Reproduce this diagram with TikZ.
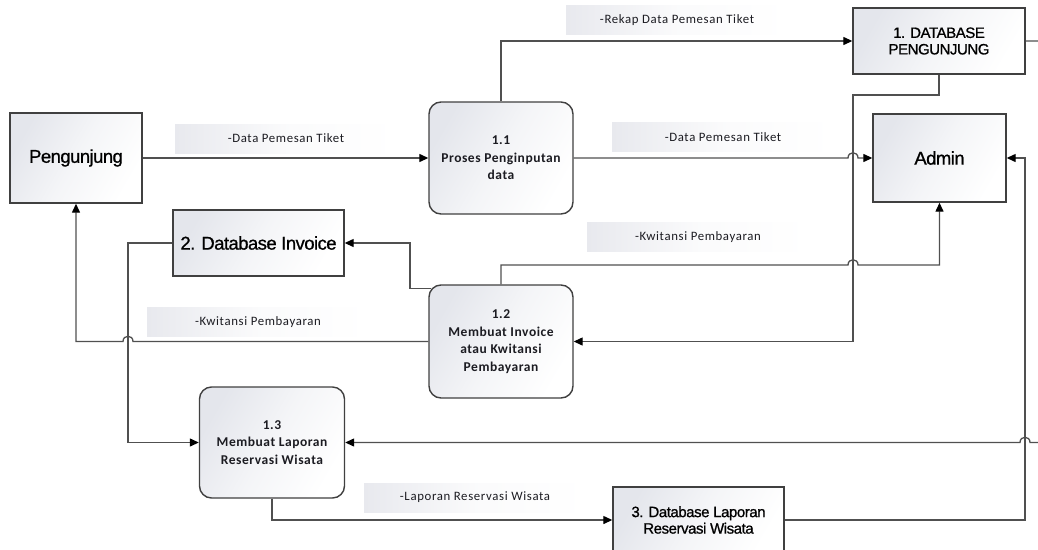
\documentclass[tikz,border=0pt]{standalone}
\usepackage{fontspec}
\usetikzlibrary{arrows.meta,calc}
\newfontfamily\boxfont[LetterSpace=-3,FakeBold=0.9]{Liberation Sans}
\newfontfamily\procfont[LetterSpace=4]{Carlito}
\newfontfamily\flowfont[LetterSpace=5]{Carlito}
\definecolor{edgegray}{RGB}{64,64,64}
\definecolor{linegray}{RGB}{80,80,80}
\definecolor{shadegray}{RGB}{228,230,236}
\definecolor{tagshade}{RGB}{232,233,238}
\definecolor{txt}{RGB}{28,28,34}

\tikzset{
  entity/.style={draw=edgegray, line width=1.4pt,
    left color=shadegray, right color=white, middle color=white!60!shadegray,
    shading angle=60, inner sep=2pt, align=center, text=black},
  process/.style={entity, rounded corners=12pt,
    font=\procfont\bfseries\fontsize{13.5}{17.5}\selectfont, text=txt},
  bigtext/.style={font=\boxfont\fontsize{18.5}{21}\selectfont},
  smalltext/.style={font=\boxfont\fontsize{15}{16.5}\selectfont},
  tag/.style={left color=tagshade, right color=white, middle color=white!80!tagshade,
    minimum width=222pt, minimum height=29pt, inner sep=0pt, text=txt,
    font=\flowfont\fontsize{12.8}{15}\selectfont},
  flow/.style={draw=linegray, line width=1.3pt,
    -{Triangle[length=9pt,width=8pt,color=black]}},
  hopr/.style={insert path={-- ($(#1)+(-5,0)$) .. controls ($(#1)+(-5,-7)$) and ($(#1)+(5,-7)$) .. ($(#1)+(5,0)$)}},
  hopl/.style={insert path={-- ($(#1)+(5,0)$) .. controls ($(#1)+(5,-7)$) and ($(#1)+(-5,-7)$) .. ($(#1)+(-5,0)$)}}
}

\begin{document}
\begin{tikzpicture}[x=1pt,y=-1pt]
\path[use as bounding box] (0,0) rectangle (1038,549);
\clip (0,0) rectangle (1038,549);

% external entities and data stores
\node[entity, bigtext, minimum width=132pt, minimum height=90pt] (pg) at (76,158) {Pengunjung};
\node[entity, bigtext, minimum width=133pt, minimum height=88pt] (adm) at (939.5,158) {Admin};
\node[entity, smalltext, minimum width=172pt, minimum height=66pt] (dbp) at (939,41) {1. DATABASE\\PENGUNJUNG};
\node[entity, bigtext, minimum width=171pt, minimum height=66pt] (dbi) at (258.5,243) {2. Database Invoice};
\node[entity, smalltext, minimum width=171pt, minimum height=66pt] (dbl) at (698.5,520) {3. Database Laporan\\Reservasi Wisata};

% processes
\node[process, minimum width=144pt, minimum height=112pt] (p11) at (501,158) {1.1\\Proses Penginputan\\data};
\node[process, minimum width=144pt, minimum height=113pt] (p12) at (501,341.5) {1.2\\Membuat Invoice\\atau Kwitansi\\Pembayaran};
\node[process, minimum width=145pt, minimum height=111pt] (p13) at (272,442.5) {1.3\\Membuat Laporan\\Reservasi Wisata};

% flow labels
\node[tag] (t1) at (286,138.5) {-Data Pemesan Tiket};
\node[tag] (t2) at (723,137) {-Data Pemesan Tiket};
\node[tag] (t3) at (677,20) {-Rekap Data Pemesan Tiket};
\node[tag] (t4) at (698,237) {-Kwitansi Pembayaran};
\node[tag] (t5) at (258,322) {-Kwitansi Pembayaran};
\node[tag] (t6) at (475,497.5) {-Laporan Reservasi Wisata};

% routing helpers
\coordinate (xa) at (853,95);
\coordinate (xb) at (1025,0);
\coordinate (xc) at (1046,0);
\coordinate (xd) at (128,0);
\coordinate (xe) at (410,0);
\coordinate (ya) at (0,265);
\coordinate (h1) at (xa |- p11.east);
\coordinate (h2) at (xa |- ya);
\coordinate (h3) at (xd |- p12.west);
\coordinate (h4) at (xb |- p13.east);

% data flows
\draw[flow] (pg.east) -- (p11.west);
\draw[flow] (p11.east) [hopr=h1] -- (adm.west);
\draw[flow] (p11.north) |- (dbp.west);
\draw[flow] (dbp.south) |- (xa) |- (p12.east);
\draw[flow] (dbp.east) -| (xc |- p13.east) [hopl=h4] -- (p13.east);
\draw[flow] (dbl.east) -| (xb |- adm.east) -- (adm.east);
\draw[flow] (p12.north) -- (p12.north |- ya) [hopr=h2] -| (adm.south);
\draw[flow] ($(p12.north west)+(3,4)$) -| (xe |- dbi.east) -- (dbi.east);
\draw[flow] (p12.west) [hopl=h3] -| (pg.south);
\draw[flow] (dbi.west) -| (xd |- p13.west) -- (p13.west);
\draw[flow] (p13.south) |- (dbl.west);
\end{tikzpicture}
\end{document}
